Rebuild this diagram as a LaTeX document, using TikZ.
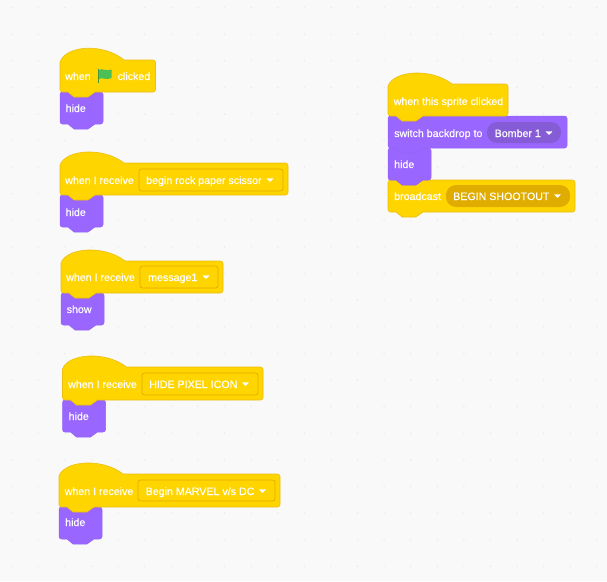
\documentclass[tikz,border=0pt]{standalone}
\usepackage{fontspec}
\setmainfont{Liberation Sans}
\newfontfamily\blockfont[FakeBold=0.25]{Liberation Sans}
\usetikzlibrary{positioning}
\definecolor{sheet}{HTML}{F9F9F9}
\definecolor{griddot}{HTML}{EAEAEA}
\definecolor{looks}{HTML}{9966FF}
\definecolor{looksedge}{HTML}{9362F6}
\definecolor{looksfield}{HTML}{855CD6}
\definecolor{event}{HTML}{FFD500}
\definecolor{eventedge}{HTML}{EBBE12}
\definecolor{eventfield}{HTML}{E0AC00}
\definecolor{flaggreen}{HTML}{4CBF56}
\definecolor{flagedge}{HTML}{45993D}
\tikzset{
    looksblock/.style={fill=looks, draw=looksedge, line width=0.5pt, line join=round},
    eventblock/.style={fill=event, draw=eventedge, line width=0.6pt, line join=round},
    blocktext/.style={text=white, inner sep=0pt, anchor=base west, font=\blockfont\fontsize{10.65}{12}\selectfont},
    fieldbox/.style={draw=eventfield, line width=0.7pt, rounded corners=2.5pt},
    lookspill/.style={fill=looksfield, rounded corners=10pt},
    eventpill/.style={fill=eventfield, rounded corners=10pt},
    menuarrow/.style={fill=white, draw=white, line width=0.4pt, line join=round},
}
% bottom edge with its bump: #1 left, #2 right, #3 bottom
\newcommand{\bottomedge}[3]{
    -- (#2, #3-2.5) arc (0:90:2.5) -- (#1+35, #3) -- (#1+28, #3+5) -- (#1+14, #3+5) -- (#1+8, #3)
    -- (#1+2.5, #3) arc (90:180:2.5)
}
% stack block: style, left, top, right, bottom
\newcommand{\stackblock}[5]{
    \draw [#1] (#2, #3+2.5) arc (180:270:2.5) -- (#2+8, #3) -- (#2+14, #3+5) -- (#2+28, #3+5) -- (#2+35, #3)
    -- (#4-2.5, #3) arc (-90:0:2.5) \bottomedge{#2}{#4}{#5} -- cycle;
}
% hat block: style, left, hat top, rect top, right, bottom
\newcommand{\hatblock}[6]{
    \draw [#1] (#2, #4+2) .. controls (#2+6, #3-3) and (#2+44, #3-5) .. (#2+64, #4)
    -- (#5-2.5, #4) arc (-90:0:2.5) \bottomedge{#2}{#5}{#6} -- cycle;
}
% drop arrow at its centre
\newcommand{\droparrow}[2]{
    \draw [menuarrow] (#1-3, #2-1.5) -- (#1+3, #2-1.5) -- (#1, #2+1.5) -- cycle;
}
\begin{document}
\begin{tikzpicture}[x=1pt, y=-1pt]
    \fill [sheet] (0, 0) rectangle (607, 581);
    \useasboundingbox (0, 0) rectangle (607, 581);
    \foreach \i in {0,...,22}
        \foreach \j in {0,...,21}
            \fill [griddot] (11.7+26.6*\i, 7.6+26.6*\j) circle (0.8);

    % first stack
    \stackblock{looksblock}{60}{92}{103}{124}
    \hatblock{eventblock}{60}{48}{60}{155.5}{92}
    \node [blocktext] (whenflag) at (65, 80) {when};
    \draw [flagedge, line width=1pt] (98.5, 69) -- (98.5, 82.5);
    \fill [flaggreen] (99, 70) .. controls (102, 67.5) and (106, 72) .. (111.5, 69.5) -- (111.5, 78)
        .. controls (106, 81) and (102, 76.5) .. (99, 79) -- cycle;
    \node [blocktext] (clicked) at (117.5, 80) {clicked};
    \node [blocktext] (hidea) at (65.5, 112) {hide};

    % second stack
    \stackblock{looksblock}{60}{195}{103}{227}
    \hatblock{eventblock}{60}{152}{163}{288}{195}
    \draw [fieldbox] (139, 169) rectangle (283, 191);
    \node [blocktext] (receiveb) at (65, 184) {when I receive};
    \node [blocktext] (rock) at (146, 184) {begin rock paper scissor};
    \droparrow{270}{180}
    \node [blocktext] (hideb) at (65.5, 216) {hide};

    % third stack
    \stackblock{looksblock}{61}{293}{104}{325}
    \hatblock{eventblock}{61}{250}{261}{223}{293}
    \draw [fieldbox] (140, 266) rectangle (218, 288);
    \node [blocktext] (receivec) at (66, 281) {when I receive};
    \node [blocktext] (messagec) at (148, 281) {message1};
    \droparrow{206}{277}
    \node [blocktext] (show) at (66.5, 313) {show};

    % fourth stack
    \stackblock{looksblock}{62.5}{400}{105.5}{432}
    \hatblock{eventblock}{62.5}{356}{367}{263}{400}
    \draw [fieldbox] (142, 373) rectangle (258, 395);
    \node [blocktext] (received) at (68, 388) {when I receive};
    \node [blocktext] (pixel) at (149, 388) {HIDE PIXEL ICON};
    \droparrow{245.5}{384}
    \node [blocktext] (hided) at (68.5, 420) {hide};

    % fifth stack
    \stackblock{looksblock}{59}{507}{102}{539}
    \hatblock{eventblock}{59}{463}{474}{280}{507}
    \draw [fieldbox] (138, 480) rectangle (275, 501);
    \node [blocktext] (receivee) at (64.5, 495) {when I receive};
    \node [blocktext] (marvel) at (145.5, 495) {Begin MARVEL v/s DC};
    \droparrow{262.5}{491}
    \node [blocktext] (hidee) at (65, 526) {hide};

    % right stack
    \stackblock{eventblock}{388}{180}{575}{212}
    \stackblock{looksblock}{388}{148}{431}{180}
    \stackblock{looksblock}{388}{116}{567}{148}
    \hatblock{eventblock}{388}{73}{84}{508}{116}
    \node [blocktext] (sprite) at (393.5, 105) {when this sprite clicked};
    \fill [lookspill] (487, 122) rectangle (561, 143);
    \node [blocktext] (switch) at (394, 137) {switch backdrop to};
    \node [blocktext] (bomber) at (494.5, 137) {Bomber 1};
    \droparrow{549}{133}
    \node [blocktext] (hidef) at (394, 168) {hide};
    \fill [eventpill] (446, 185) rectangle (570, 207);
    \node [blocktext] (broadcast) at (394, 200) {broadcast};
    \node [blocktext] (shootout) at (453, 200) {BEGIN SHOOTOUT};
    \droparrow{557.5}{196}
\end{tikzpicture}
\end{document}
